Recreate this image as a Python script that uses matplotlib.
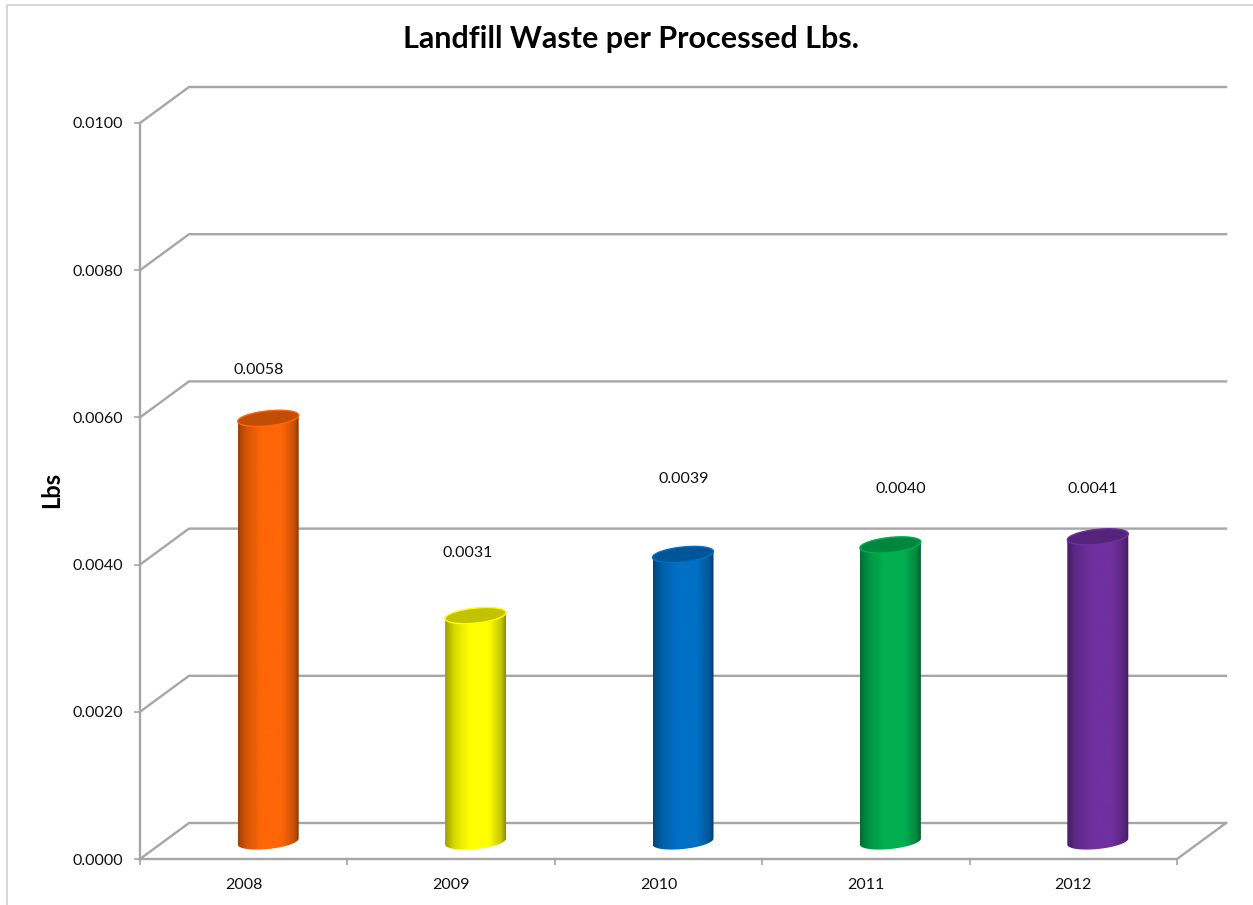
import numpy as np
import matplotlib
matplotlib.use("Agg")
import matplotlib.pyplot as plt
from matplotlib.colors import LinearSegmentedColormap, to_rgb
from matplotlib.patches import PathPatch
from matplotlib.path import Path

plt.rcParams['font.family'] = ['Lato', 'DejaVu Sans']

years = ["2008", "2009", "2010", "2011", "2012"]
values = [0.00575, 0.00307, 0.0039, 0.00403, 0.00414]
labels = ["0.0058", "0.0031", "0.0039", "0.0040", "0.0041"]
colors = ["#FF6608", "#FFFF00", "#0070C6", "#00B050", "#7030A0"]
yticks = [0.0, 0.002, 0.004, 0.006, 0.008, 0.010]

# where Excel left the data labels, in pixels from the bar top
label_dx = [-10, -8, 1, 10, -5]
label_dy = [48.5, 63, 75, 55.5, 47.5]

W, H = 1253, 905
left, right, bottom, top = 140, 1177, 859, 123
depth_x, depth_y = 49, 36
GRID = "#A6A6A6"

fig = plt.figure(figsize=(W / 100, H / 100), dpi=100)
ax = fig.add_axes([left / W, 1 - bottom / H, (right - left) / W, (bottom - top) / H])
ax.set_xlim(-0.5, 4.5)
ax.set_ylim(0, 0.01)

# pixels -> data
sx = 5 / (right - left)
sy = 0.01 / (bottom - top)
dx = depth_x * sx
dy = depth_y * sy

# walls and floor
for v in yticks:
    ax.plot([-0.5, -0.5 + dx, 4.5 + dx], [v, v + dy, v + dy], color=GRID, lw=1.7, clip_on=False, zorder=1)
ax.plot([4.5, 4.5 + dx], [0, dy], color=GRID, lw=1.7, clip_on=False, zorder=1)

for s in ["top", "right"]:
    ax.spines[s].set_visible(False)
for s in ["left", "bottom"]:
    ax.spines[s].set_color(GRID)
    ax.spines[s].set_linewidth(1.7)

ax.set_yticks(yticks)
ax.set_yticklabels([f"{v:.4f}" for v in yticks])
ax.set_xticks(np.arange(-0.5, 5, 1))
ax.set_xticklabels([])
ax.set_xticks(np.arange(5), minor=True)
ax.set_xticklabels(years, minor=True)
ax.tick_params(axis="both", which="major", color=GRID, width=1.2, length=4.5, labelsize=11.5, labelcolor="#111111", pad=8)
ax.tick_params(axis="x", which="minor", length=0, labelsize=11.5, labelcolor="#111111", pad=14)


def cylinder(ax, x, v, color):
    rx, ry, tilt = 30.5 * sx, 7.5 * sy, 3 * sy
    base = 17.5 * sy
    t = np.linspace(0, np.pi, 60)
    cx = x + dx / 2
    # lower half of the ellipse, drawn left to right
    ex = -np.cos(t)
    ey = -ry * np.sin(t) + tilt * np.cos(t) * -1
    side = tilt * ex
    verts = np.vstack([
        np.column_stack([cx + rx * ex, base + ey]),
        np.column_stack([(cx + rx * ex)[::-1], (base + v + side)[::-1]]),
    ])
    body = Path(np.vstack([verts, verts[0]]))

    rgb = np.array(to_rgb(color))
    shade = LinearSegmentedColormap.from_list("c", [
        (0.0, rgb * 0.62), (0.15, rgb * 0.85), (0.4, rgb), (0.72, rgb),
        (0.92, rgb * 0.78), (1.0, rgb * 0.55)])
    grad = np.linspace(0, 1, 256).reshape(1, -1)
    im = ax.imshow(grad, cmap=shade, vmin=0, vmax=1, aspect="auto", zorder=3,
                   extent=[cx - rx, cx + rx, 0, 0.01], interpolation="bilinear")
    patch = PathPatch(body, transform=ax.transData, fc="none", ec="none")
    ax.add_patch(patch)
    im.set_clip_path(patch)

    # dark cap on top
    a = np.linspace(0, 2 * np.pi, 120)
    capx = cx + rx * np.cos(a)
    capy = base + v + ry * np.sin(a) + tilt * np.cos(a)
    ax.fill(capx, capy, fc=rgb * 0.76, ec=color, lw=1, zorder=4, clip_on=False)


for i, v in enumerate(values):
    cylinder(ax, i, v, colors[i])
    ax.text(i + dx / 2 + label_dx[i] * sx, v + (17.5 + label_dy[i]) * sy, labels[i],
            ha="center", va="center", fontsize=11.5, color="#111111", zorder=5)

ax.set_xlim(-0.5, 4.5)
ax.set_ylim(0, 0.01)

fig.text(631 / W, 1 - 39 / H, "Landfill Waste per Processed Lbs.", ha="center", va="center",
         fontsize=22, fontweight="bold", color="black")
fig.text(52 / W, 1 - 490 / H, "Lbs", rotation=90, ha="center", va="center",
         fontsize=17, fontweight="bold", color="black")

# chart frame from the screenshot
fig.add_artist(plt.Line2D([7 / W, 7 / W, 1], [0, 1 - 5 / H, 1 - 5 / H], color="#D0D0D0", lw=1.2))

fig.savefig("out.png", dpi=100)
